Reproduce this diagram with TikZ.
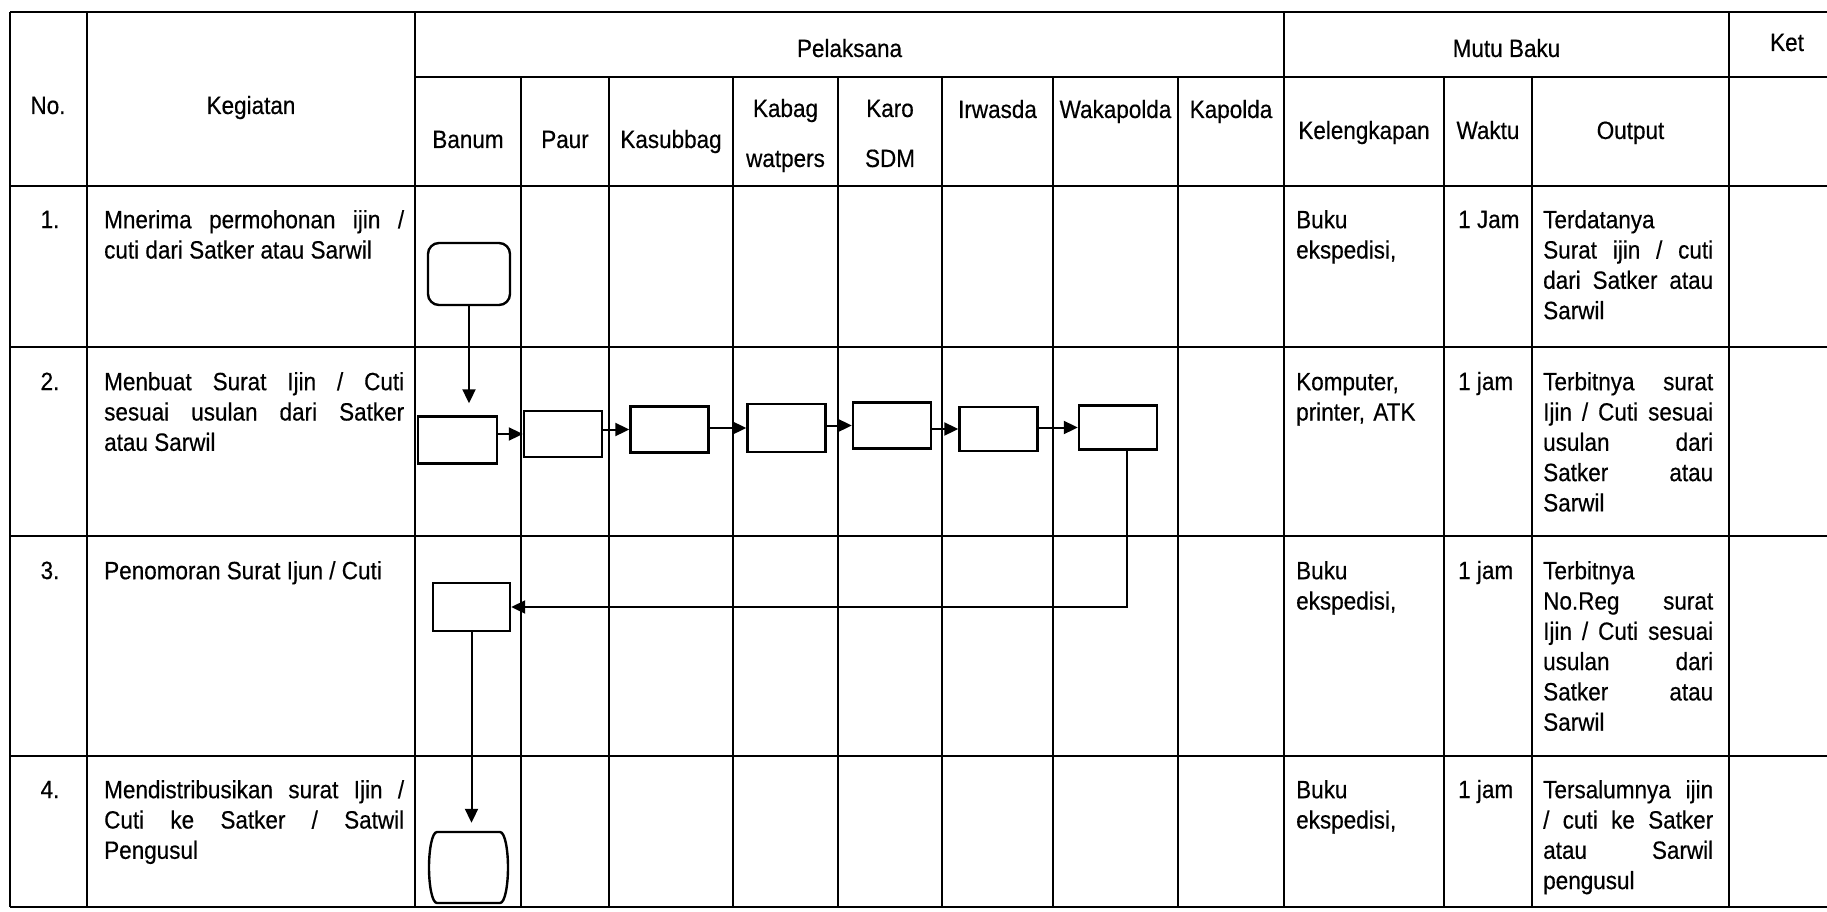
\documentclass[tikz,border=0pt]{standalone}
\usepackage{fontspec}
\setmainfont{Liberation Sans}[FakeStretch=0.9,FakeBold=0.4]
\usetikzlibrary{arrows.meta}
\newcommand\myfnt{\fontsize{25}{30.3}\selectfont\tolerance=10000 \hbadness=10000\relax}
\begin{document}
\begin{tikzpicture}[x=1pt,y=-1pt,
  tbl/.style={line width=2pt},
  txt/.style={font=\myfnt, inner sep=0pt},
  hdr/.style={txt, anchor=base},
  ptext/.style={txt, anchor=north west, align=justify, text width=#1},
  ltext/.style={txt, anchor=north west, align=left, text width=#1},
  box/.style={draw, line width=2.4pt, inner sep=0pt, minimum width=78pt, minimum height=46pt},
  startst/.style={draw, line width=2.4pt, rounded corners=11pt, inner sep=0pt, minimum width=82pt, minimum height=62pt},
  flow/.style={line width=2pt, -{Triangle[length=14pt,width=13pt]}},
]
\useasboundingbox (0,0) rectangle (1827,912);
\fill[white] (0,0) rectangle (1827,912);
\clip (0,0) rectangle (1827,912);

% ---- table grid ----
\foreach \yy in {12,186,347,536,756,907} \draw[tbl] (10,\yy) -- (1900,\yy);
\draw[tbl] (415,77) -- (1900,77);
\foreach \xx in {10,87,415,1284,1729} \draw[tbl] (\xx,12) -- (\xx,907);
\foreach \xx in {521,609,733,838,942,1053,1178,1444,1532} \draw[tbl] (\xx,77) -- (\xx,907);

% ---- header texts ----
\node[hdr] (hPel) at (849.5,57) {Pelaksana};
\node[hdr] (hMutu) at (1506.5,57) {Mutu Baku};
\node[hdr] (hKet) at (1787,51) {Ket};
\node[hdr] (hNo) at (48,114) {No.};
\node[hdr] (hKeg) at (251,114) {Kegiatan};
\node[hdr] (hBan) at (468,148) {Banum};
\node[hdr] (hPaur) at (565,148) {Paur};
\node[hdr] (hKas) at (671,148) {Kasubbag};
\node[hdr] (hKab1) at (785.5,117) {Kabag};
\node[hdr] (hKab2) at (785.5,167) {watpers};
\node[hdr] (hKaro1) at (890,117) {Karo};
\node[hdr] (hKaro2) at (890,167) {SDM};
\node[hdr] (hIrw) at (997.5,118) {Irwasda};
\node[hdr] (hWak) at (1115.5,118) {Wakapolda};
\node[hdr] (hKap) at (1231,118) {Kapolda};
\node[hdr] (hKel) at (1364,139) {Kelengkapan};
\node[hdr] (hWak2) at (1488,139) {Waktu};
\node[hdr] (hOut) at (1630.5,139) {Output};

% ---- row numbers ----
\node[hdr] (n1) at (50,228) {1.};
\node[hdr] (n2) at (50,390) {2.};
\node[hdr] (n3) at (50,579) {3.};
\node[hdr] (n4) at (50,798) {4.};

% ---- kegiatan ----
\node[ptext=300pt] (k1) at (104,206.8) {\strut Mnerima permohonan ijin /\linebreak cuti dari Satker atau Sarwil};
\node[ptext=300pt] (k2) at (104,368.8) {\strut Menbuat Surat Ijin / Cuti\linebreak sesuai usulan dari Satker\linebreak atau Sarwil};
\node[ptext=300pt] (k3) at (104,557.8) {\strut Penomoran Surat Ijun / Cuti};
\node[ptext=300pt] (k4) at (104,776.8) {\strut Mendistribusikan surat Ijin /\linebreak Cuti ke Satker / Satwil\linebreak Pengusul};

% ---- kelengkapan ----
\node[ltext=145pt] (l1) at (1296,206.8) {\strut Buku\\ekspedisi,};
\node[ltext=145pt] (l2) at (1296,368.8) {\strut Komputer,\\printer, ATK};
\node[ltext=145pt] (l3) at (1296,557.8) {\strut Buku\\ekspedisi,};
\node[ltext=145pt] (l4) at (1296,776.8) {\strut Buku\\ekspedisi,};

% ---- waktu ----
\node[txt, anchor=base west] (w1) at (1458,228) {1 Jam};
\node[txt, anchor=base west] (w2) at (1458,390) {1 jam};
\node[txt, anchor=base west] (w3) at (1458,579) {1 jam};
\node[txt, anchor=base west] (w4) at (1458,798) {1 jam};

% ---- output ----
\node[ptext=170pt] (o1) at (1543,206.8) {\strut Terdatanya\linebreak Surat ijin / cuti\linebreak dari Satker atau\linebreak Sarwil};
\node[ptext=170pt] (o2) at (1543,368.8) {\strut Terbitnya surat\linebreak Ijin / Cuti sesuai\linebreak usulan dari\linebreak Satker atau\linebreak Sarwil};
\node[ptext=170pt] (o3) at (1543,557.8) {\strut Terbitnya\linebreak No.Reg surat\linebreak Ijin / Cuti sesuai\linebreak usulan dari\linebreak Satker atau\linebreak Sarwil};
\node[ptext=170pt] (o4) at (1543,776.8) {\strut Tersalumnya ijin\linebreak / cuti ke Satker\linebreak atau Sarwil\linebreak pengusul};

% ---- flow shapes ----
\node[startst] (s) at (469,274) {};
\node[box, minimum width=79pt, minimum height=47pt] (b1) at (457.5,440) {};
\node[box] (b2) at (563,434) {};
\node[box] (b3) at (669.5,429.5) {};
\node[box, minimum height=48pt] (b4) at (786.5,428) {};
\node[box] (b5) at (892,425.5) {};
\node[box, minimum height=44pt] (b6) at (998.5,429) {};
\node[box, minimum height=44pt] (b7) at (1118,427.5) {};
\node[box, minimum width=77pt, minimum height=48pt] (r3) at (471.5,607) {};
\node[inner sep=0pt, minimum width=79pt, minimum height=71pt] (e) at (468.5,867.5) {};
\draw[line width=2.4pt] (437,832) -- (500,832)
  .. controls (505,832) and (508,850) .. (508,867.5)
  .. controls (508,885) and (505,903) .. (500,903)
  -- (437,903)
  .. controls (432,903) and (429,885) .. (429,867.5)
  .. controls (429,850) and (432,832) .. (437,832) -- cycle;

% ---- connectors ----
\draw[flow, shorten >=12pt] (s.south) -- (s.south |- b1.north);
\draw[flow] (b2.west -| b1.east) -- (b2.west);
\draw[flow] (b3.west -| b2.east) -- (b3.west);
\draw[flow] (b4.west -| b3.east) -- (b4.west);
\draw[flow] (b5.west -| b4.east) -- (b5.west);
\draw[flow] (b6.west -| b5.east) -- (b6.west);
\draw[flow] (b7.west -| b6.east) -- (b7.west);
\draw[flow] ([xshift=9pt]b7.south) |- (r3.east);
\draw[flow, shorten >=9pt] (r3.south) -- (r3.south |- e.north);
\end{tikzpicture}
\end{document}
